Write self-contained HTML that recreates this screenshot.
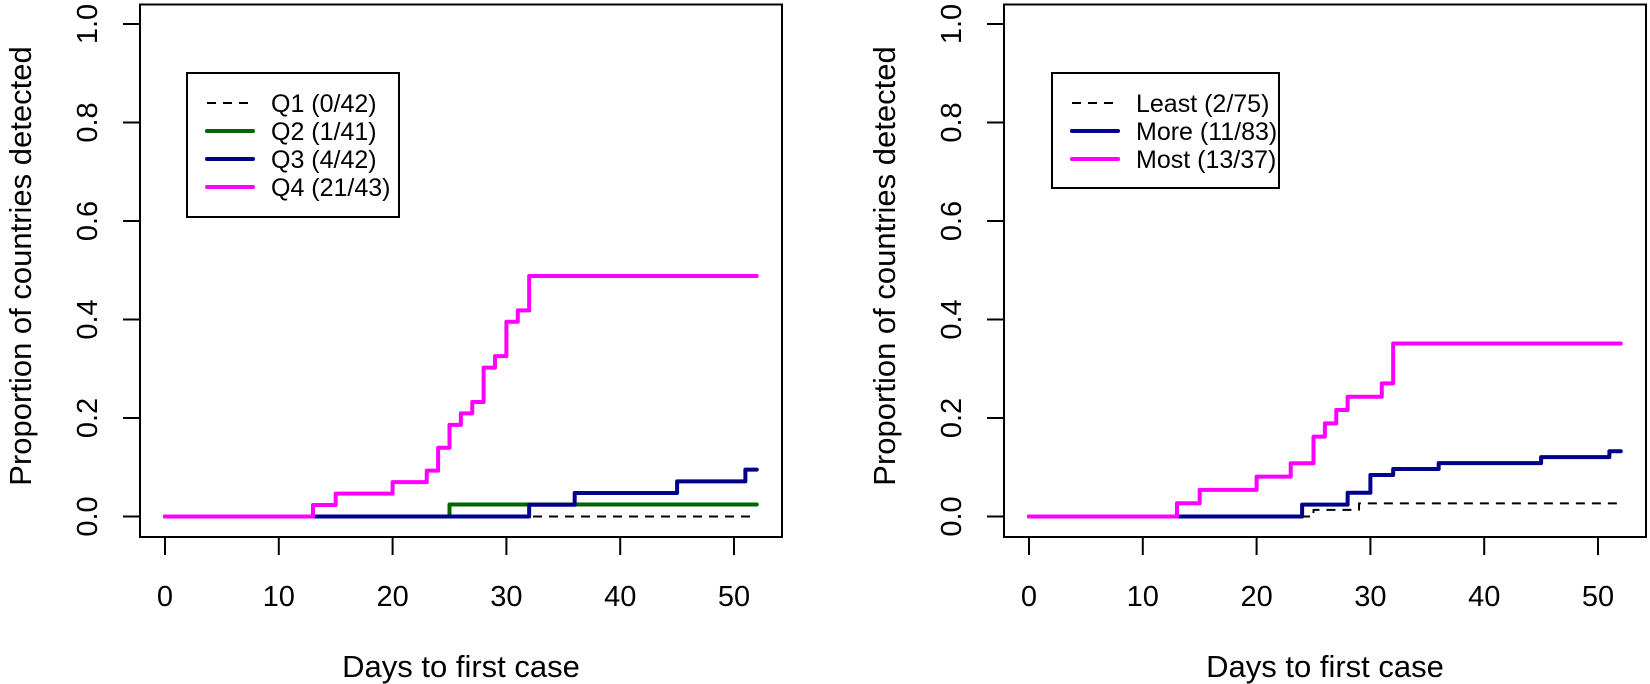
<!DOCTYPE html>
<html><head><meta charset="utf-8">
<style>
html,body{margin:0;padding:0;background:#fff;}
svg{display:block;font-family:"Liberation Sans",Arial,sans-serif;}
</style></head>
<body>
<svg id="chart" width="1650" height="684" viewBox="0 0 1650 684" xmlns="http://www.w3.org/2000/svg"></svg>
<script>
// ---- data ----
const xTicks = [0, 10, 20, 30, 40, 50];
const yTicks = [0.0, 0.2, 0.4, 0.6, 0.8, 1.0];
const yTickLabels = ["0.0", "0.2", "0.4", "0.6", "0.8", "1.0"];
const maxDay = 52;

// left panel: event days (one entry per detected country)
const q1Days = [];
const q1N = 42;
const q2Days = [25];
const q2N = 41;
const q3Days = [32, 36, 45, 51];
const q3N = 42;
const q4Days = [13, 15, 20, 23, 24, 24, 25, 25, 26, 27, 28, 28, 28, 29, 30, 30, 30, 31, 32, 32, 32];
const q4N = 43;

// right panel
const leastDays = [25, 29];
const leastN = 75;
const moreDays = [24, 24, 28, 28, 30, 30, 30, 32, 36, 45, 51];
const moreN = 83;
const mostDays = [13, 15, 20, 23, 25, 25, 26, 27, 28, 31, 32, 32, 32];
const mostN = 37;

const leftLabels = ["Q1 (0/42)", "Q2 (1/41)", "Q3 (4/42)", "Q4 (21/43)"];
const rightLabels = ["Least (2/75)", "More (11/83)", "Most (13/37)"];

const NS = "http://www.w3.org/2000/svg";
const svg = document.getElementById('chart');
function mk(tag, attrs, parent) {
  const e = document.createElementNS(NS, tag);
  for (const k in attrs) e.setAttribute(k, attrs[k]);
  (parent || svg).appendChild(e);
  return e;
}

function panel(off, series, labels, legendBox, legendRowsY, pname) {
  const g = mk('g', {});
  
  
  const X = d => off + 165 + d * 11.38;
  const Y = v => 516.5 - v * 492.5;
  const box = mk('rect', {x: off + 140, y: 4.5, width: 642, height: 532.5, fill: 'none', stroke: '#000', 'stroke-width': 2}, g);
  
  
  yTicks.forEach((t, i) => {
    const tk = mk('line', {x1: off + 123, x2: off + 140, y1: Y(t), y2: Y(t), stroke: '#000', 'stroke-width': 2}, g);
    
    
    const tx = mk('text', {x: 0, y: 0, 'font-size': 29, 'text-anchor': 'middle', transform: `translate(${off + 97},${Y(t)}) rotate(-90)`}, g);
    tx.textContent = yTickLabels[i];
    
    
  });
  xTicks.forEach(t => {
    const tk = mk('line', {x1: X(t), x2: X(t), y1: 537, y2: 555, stroke: '#000', 'stroke-width': 2}, g);
    
    
    const tx = mk('text', {x: X(t), y: 606, 'font-size': 29, 'text-anchor': 'middle'}, g);
    tx.textContent = String(t);
    
    
  });
  const yt = mk('text', {x: 0, y: 0, 'font-size': 31, 'text-anchor': 'middle', transform: `translate(${off + 31},${266}) rotate(-90)`}, g);
  yt.textContent = 'Proportion of countries detected';
  
  
  const xt = mk('text', {x: off + 461, y: 677, 'font-size': 31, 'text-anchor': 'middle'}, g);
  xt.textContent = 'Days to first case';
  
  

  series.forEach(s => {
    const days = s.days.slice().sort((a, b) => a - b);
    let cnt = 0;
    let d = `M${X(0)},${Y(0)}`;
    const uniq = [...new Set(days)];
    uniq.forEach(day => {
      cnt += days.filter(v => v === day).length;
      d += ` H${X(day)} V${Y(cnt / s.n)}`;
    });
    d += ` H${X(maxDay)}`;
    const attrs = {d: d, fill: 'none', stroke: s.color, 'stroke-width': s.dash ? 2 : 4, 'stroke-linejoin': 'round', 'stroke-linecap': 'round'};
    if (s.dash) { attrs['stroke-dasharray'] = '9,7'; attrs['stroke-linecap'] = 'butt'; }
    const p = mk('path', attrs, g);
    
    
  });

  const lg = mk('g', {}, g);
  
  
  mk('rect', {x: legendBox[0], y: legendBox[1], width: legendBox[2], height: legendBox[3], fill: '#fff', stroke: '#000', 'stroke-width': 2}, lg);
  series.forEach((s, i) => {
    const yy = legendRowsY[i];
    const la = {x1: legendBox[0] + 20, x2: legendBox[0] + 66, y1: yy, y2: yy, stroke: s.color, 'stroke-width': s.dash ? 2 : 4, 'stroke-linecap': s.dash ? 'butt' : 'round'};
    if (s.dash) la['stroke-dasharray'] = '9,7';
    const ln = mk('line', la, lg);
    
    
    const t = mk('text', {x: legendBox[0] + 84, y: yy + 9, 'font-size': 25}, lg);
    t.textContent = labels[i];
    
    
  });
}

panel(0, [
  {days: q1Days, n: q1N, color: '#000', dash: true, name: 'line-q1'},
  {days: q2Days, n: q2N, color: '#006400', name: 'line-q2'},
  {days: q3Days, n: q3N, color: '#00008b', name: 'line-q3'},
  {days: q4Days, n: q4N, color: '#ff00ff', name: 'line-q4'}
], leftLabels, [187, 73, 212, 144], [103, 131, 159, 187], 'left-panel');

panel(864, [
  {days: leastDays, n: leastN, color: '#000', dash: true, name: 'line-least'},
  {days: moreDays, n: moreN, color: '#00008b', name: 'line-more'},
  {days: mostDays, n: mostN, color: '#ff00ff', name: 'line-most'}
], rightLabels, [1052, 73, 227, 115], [103, 131, 159], 'right-panel');
</script>
</body></html>
